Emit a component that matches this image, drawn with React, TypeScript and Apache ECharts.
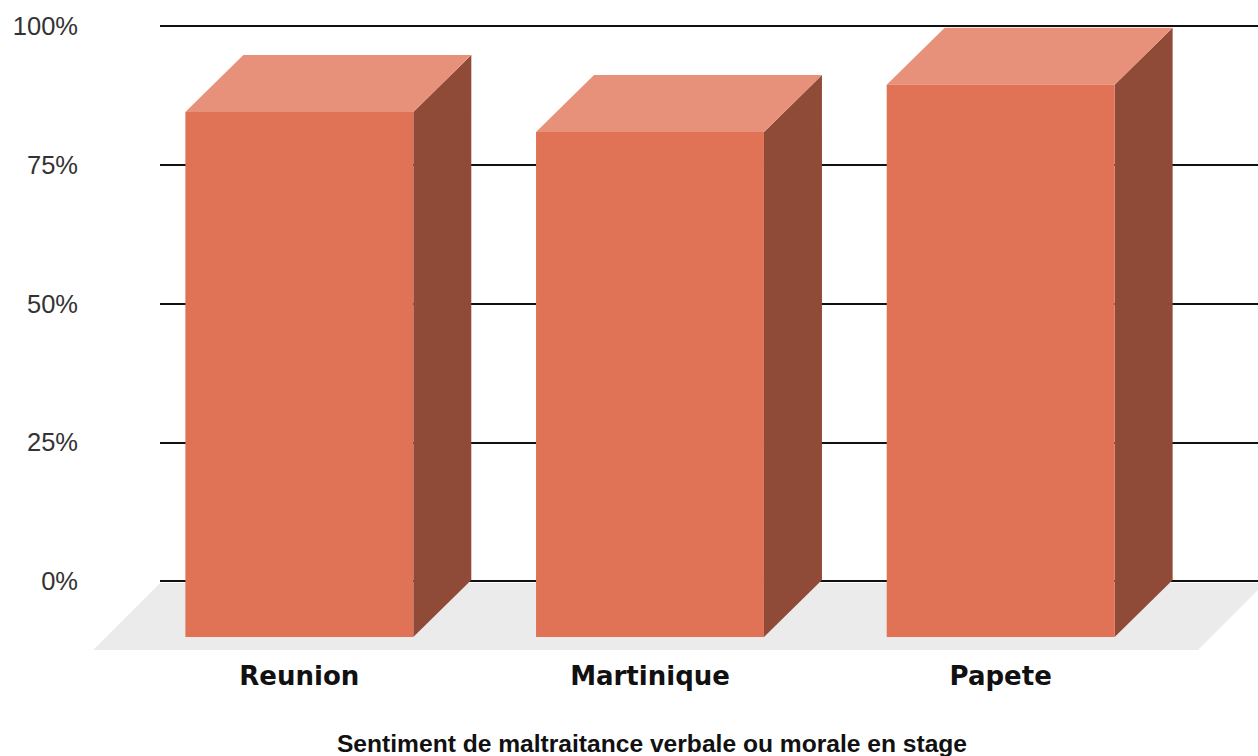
import React, { useEffect, useRef } from "react";
import * as echarts from "echarts";

// Share of interns reporting verbal or moral mistreatment, by site
const categories = ["Reunion", "Martinique", "Papete"];
const values = [94.6, 91.0, 99.5];
const yMin = 0;
const yMax = 100;
const yStep = 25;
const axisTitle = "Sentiment de maltraitance verbale ou morale en stage";

// 3D box styling
const FRONT = "#e07355";
const TOP = "#e8917a";
const SIDE = "#8f4b37";
const FLOOR = "#ebebeb";
const DEPTH_X = 58;
const DEPTH_Y = 57;
const FLOOR_DEPTH = 67;
const BAR_RATIO = 0.65;

export default function App() {
  const ref = useRef<HTMLDivElement>(null);

  useEffect(() => {
    document.body.style.margin = "0";
    if (!ref.current) return;
    const chart = echarts.init(ref.current, undefined, { renderer: "svg" });

    const option: any = {
      animation: false,
      backgroundColor: "#ffffff",
      grid: [
        // back plane: gridlines and value labels
        { left: 160, right: 0, top: 26, bottom: 175 },
        // front plane: box fronts and category labels
        { left: 124, width: 1052, top: 82, bottom: 119 },
      ],
      xAxis: [
        {
          type: "category",
          gridIndex: 0,
          data: categories,
          show: false,
        },
        {
          type: "category",
          gridIndex: 1,
          data: categories,
          axisLine: { show: false },
          axisTick: { show: false },
          splitLine: { show: false },
          axisLabel: {
            margin: 26,
            color: "#111111",
            fontFamily: "DejaVu Sans",
            fontWeight: "bold",
            fontSize: 26,
          },
        },
      ],
      yAxis: [
        {
          type: "value",
          gridIndex: 0,
          min: yMin,
          max: yMax,
          interval: yStep,
          axisLine: { show: false },
          axisTick: { show: false },
          axisLabel: {
            formatter: "{value}%",
            margin: 82,
            color: "#333333",
            fontFamily: "Liberation Sans",
            fontSize: 25.5,
          },
          splitLine: { show: true, lineStyle: { color: "#111111", width: 2 } },
        },
        {
          type: "value",
          gridIndex: 1,
          min: yMin,
          max: yMax,
          show: false,
        },
      ],
      graphic: [
        {
          type: "text",
          x: 652,
          y: 743,
          style: {
            text: axisTitle,
            fill: "#111111",
            font: "bold 24.6px 'Liberation Sans'",
            textAlign: "center",
            textVerticalAlign: "middle",
          },
        },
      ],
      series: [
        {
          // grey floor under the boxes
          type: "custom",
          xAxisIndex: 0,
          yAxisIndex: 0,
          z: 1,
          silent: true,
          data: [[0, yMin]],
          renderItem: (params: any, api: any) => {
            const cs = params.coordSys;
            const y0 = api.coord([0, yMin])[1] + 2;
            const left = cs.x;
            const right = cs.x + cs.width + 7;
            return {
              type: "polygon",
              shape: {
                points: [
                  [left, y0],
                  [right, y0],
                  [right - FLOOR_DEPTH, y0 + FLOOR_DEPTH],
                  [left - FLOOR_DEPTH, y0 + FLOOR_DEPTH],
                ],
              },
              style: { fill: FLOOR },
            };
          },
        },
        {
          type: "custom",
          xAxisIndex: 1,
          yAxisIndex: 1,
          z: 2,
          clip: false,
          data: values.map((v, i) => [i, v]),
          renderItem: (params: any, api: any) => {
            const idx = api.value(0);
            const v = api.value(1);
            const topPt = api.coord([idx, v]);
            const basePt = api.coord([idx, yMin]);
            const w = api.size([1, 0])[0] * BAR_RATIO;
            const x0 = topPt[0] - w / 2;
            const x1 = topPt[0] + w / 2;
            const yT = topPt[1];
            const yB = basePt[1];
            return {
              type: "group",
              children: [
                {
                  type: "polygon",
                  shape: {
                    points: [
                      [x1, yT],
                      [x1 + DEPTH_X, yT - DEPTH_Y],
                      [x1 + DEPTH_X, yB - DEPTH_Y],
                      [x1, yB],
                    ],
                  },
                  style: { fill: SIDE },
                },
                {
                  type: "polygon",
                  shape: {
                    points: [
                      [x0, yT],
                      [x0 + DEPTH_X, yT - DEPTH_Y],
                      [x1 + DEPTH_X, yT - DEPTH_Y],
                      [x1, yT],
                    ],
                  },
                  style: { fill: TOP },
                },
                {
                  type: "rect",
                  shape: { x: x0, y: yT, width: w, height: yB - yT },
                  style: { fill: FRONT },
                },
              ],
            };
          },
        },
      ],
    };

    chart.setOption(option);
    return () => chart.dispose();
  }, []);

  return <div ref={ref} style={{ width: 1258, height: 756 }} />;
}
